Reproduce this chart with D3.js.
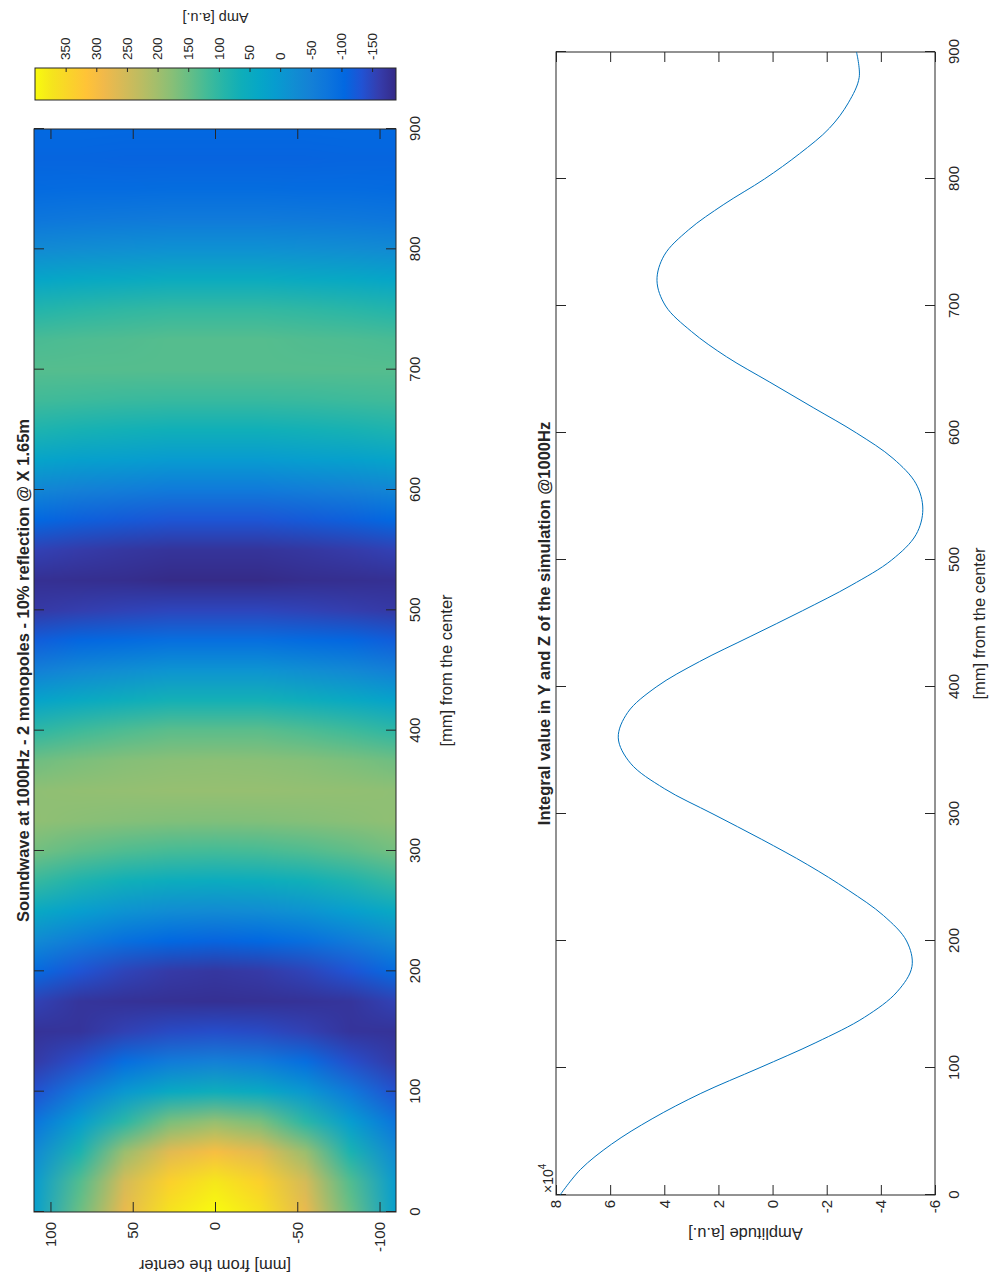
<!DOCTYPE html>
<html>
<head>
<meta charset="utf-8">
<script src="https://cdn.jsdelivr.net/npm/d3@7"></script>
<style>
body { margin: 0; background: #fff; }
text { font-family: "Liberation Sans", Arial, Helvetica, sans-serif; fill: #262626; }
.axis line { stroke: #262626; }
.axis path { display: none; }
</style>
</head>
<body>
<div id="chart"></div>
<script>
// ---- heatmap data (Amp [a.u.]) ----
var hmX = [0, 25, 50, 75, 100, 125, 150, 175, 200, 225, 250, 275, 300, 325, 350, 375, 400, 425, 450,
    475, 500, 525, 550, 575, 600, 625, 650, 675, 700, 725, 750, 775, 800, 825, 850, 875, 900];
var hmY = [110, 82.5, 55, 27.5, 0, -27.5, -55, -82.5, -110];

var ampRow0 = [400, 375, 300, 190, 60, -50, -140, -180, -170, -110, -30, 50, 120, 170, 190, 180, 140, 70, -10,
    -90, -150, -188, -175, -130, -65, 5, 65, 110, 135, 135, 105, 50, -15, -65, -95, -110, -105];
var ampRow27 = [368, 338, 269, 165, 44, -61, -144, -179, -165, -105, -25, 54, 123, 171, 190, 178, 140, 70, -10,
    -90, -150, -188, -175, -130, -65, 5, 65, 110, 135, 135, 105, 50, -15, -65, -95, -110, -105];
var ampRow55 = [278, 254, 193, 96, -2, -92, -156, -177, -152, -89, -11, 65, 130, 174, 188, 174, 129, 59, -21,
    -98, -154, -184, -170, -123, -58, 11, 69, 112, 135, 132, 101, 45, -19, -67, -96, -110, -105];
var ampRow82 = [151, 132, 78, 9, -67, -139, -174, -173, -131, -63, 13, 84, 142, 178, 186, 166, 116, 44, -34,
    -107, -160, -182, -164, -115, -49, 18, 74, 115, 135, 129, 95, 39, -23, -70, -97, -109, -104];
var ampRow110 = [16, 4, -32, -79, -135, -166, -176, -154, -99, -29, 44, 109, 159, 184, 183, 155, 99, 25, -52,
    -120, -167, -180, -155, -103, -37, 28, 82, 119, 135, 125, 87, 30, -30, -74, -99, -109, -104];

var cbRange = [-189, 400];
var cbTicks = [-150, -100, -50, 0, 50, 100, 150, 200, 250, 300, 350];

// ---- integral line data ----
var lineX = [0, 20, 40, 60, 80, 100, 120, 140, 160, 180, 200, 220, 240, 260, 280, 300, 320, 340, 360, 380,
    400, 420, 440, 460, 480, 500, 520, 540, 560, 580, 600, 620, 640, 660, 680, 700, 720, 740, 760, 780,
    800, 820, 840, 860, 880, 900];
var lineAmp = [78500, 71000, 59500, 44500, 26500, 5000, -16000, -34000, -46000, -51500, -49500, -41000, -28000,
    -13000, 4000, 22000, 40000, 52500, 57000, 53500, 43000, 27000, 8000, -11000, -29000, -44000, -53000,
    -55500, -53000, -44500, -31000, -15000, 1000, 17000, 30000, 39500, 42700, 40000, 31000, 18000,
    3000, -10000, -21000, -28000, -32000, -31000];

var xTicks = [0, 100, 200, 300, 400, 500, 600, 700, 800, 900];
var hmYTicks = [-100, -50, 0, 50, 100];
var lineYTicks = [-60000, -40000, -20000, 0, 20000, 40000, 60000, 80000];

// parula colormap (every 3rd entry of the 64 colour table)
var parula = [
    [0.2081, 0.1663, 0.5292], [0.2081, 0.2386, 0.6771], [0.1253, 0.3242, 0.8303], [0.0060, 0.4086, 0.8828],
    [0.0498, 0.4586, 0.8641], [0.0779, 0.5040, 0.8384], [0.0641, 0.5570, 0.8240], [0.0265, 0.6137, 0.8135],
    [0.0228, 0.6535, 0.7768], [0.0590, 0.6838, 0.7254], [0.1453, 0.7098, 0.6646], [0.2586, 0.7317, 0.5954],
    [0.3953, 0.7459, 0.5244], [0.5300, 0.7491, 0.4661], [0.6473, 0.7456, 0.4188], [0.7525, 0.7384, 0.3768],
    [0.8507, 0.7299, 0.3360], [0.9450, 0.7261, 0.2886], [0.9990, 0.7653, 0.2164], [0.9789, 0.8271, 0.1633],
    [0.9589, 0.8949, 0.1132], [0.9763, 0.9831, 0.0538]
];

var hmRows = [ampRow110, ampRow82, ampRow55, ampRow27, ampRow0, ampRow27, ampRow55, ampRow82, ampRow110];

// page is the MATLAB figure turned a quarter turn counter-clockwise
var svg = d3.select("#chart").append("svg")
    .attr("width", 992)
    .attr("height", 1286);
svg.append("rect").attr("width", 992).attr("height", 1286).attr("fill", "#fff");

var fig = svg.append("g")
    .attr("transform", "translate(0,1286) rotate(-90)");

var parulaColors = parula.map(function (c) {
    return d3.rgb(c[0] * 255, c[1] * 255, c[2] * 255);
});
var color = d3.scaleSequential(d3.piecewise(d3.interpolateRgb, parulaColors)).domain(cbRange);

var fmt = function (d) { return String(d); };
var TICK = 10;

// ==== heatmap ====
var hm = {left: 74, right: 1157, top: 34, bottom: 396};
var hx = d3.scaleLinear().domain([0, 900]).range([hm.left, hm.right]);
var hy = d3.scaleLinear().domain([-110, 110]).range([hm.bottom, hm.top]);

var canvas = document.createElement("canvas");
canvas.width = hmX.length;
canvas.height = hmY.length;
var ctx = canvas.getContext("2d");
hmRows.forEach(function (row, j) {
    row.forEach(function (v, i) {
        ctx.fillStyle = color(v);
        ctx.fillRect(i, j, 1, 1);
    });
});

fig.append("clipPath").attr("id", "hm-clip")
    .append("rect")
    .attr("x", hm.left).attr("y", hm.top)
    .attr("width", hm.right - hm.left).attr("height", hm.bottom - hm.top);

var dxh = (hmX[1] - hmX[0]) / 2, dyh = (hmY[0] - hmY[1]) / 2;
fig.append("g").attr("clip-path", "url(#hm-clip)")
    .append("image")
    .attr("href", canvas.toDataURL())
    .attr("x", hx(hmX[0] - dxh))
    .attr("y", hy(hmY[0] + dyh))
    .attr("width", hx(hmX[hmX.length - 1] + dxh) - hx(hmX[0] - dxh))
    .attr("height", hy(hmY[hmY.length - 1] - dyh) - hy(hmY[0] + dyh))
    .attr("preserveAspectRatio", "none");

function drawBox(g, box) {
    g.append("rect")
        .attr("x", box.left).attr("y", box.top)
        .attr("width", box.right - box.left).attr("height", box.bottom - box.top)
        .attr("fill", "none").attr("stroke", "#262626").attr("stroke-width", 1);
}

function drawAxes(box, x, y, xt, yt, yfmt, ypad) {
    fig.append("g").attr("class", "axis")
        .attr("transform", "translate(0," + box.bottom + ")")
        .call(d3.axisBottom(x).tickValues(xt).tickSize(-TICK).tickPadding(13).tickFormat(fmt))
        .selectAll("text").style("font-size", "15px").attr("fill", "#262626");
    fig.append("g").attr("class", "axis")
        .attr("transform", "translate(0," + box.top + ")")
        .call(d3.axisTop(x).tickValues(xt).tickSize(-TICK).tickFormat(""));
    fig.append("g").attr("class", "axis")
        .attr("transform", "translate(" + box.left + ",0)")
        .call(d3.axisLeft(y).tickValues(yt).tickSize(-TICK).tickPadding(ypad).tickFormat(yfmt))
        .selectAll("text").style("font-size", "15px").attr("fill", "#262626");
    fig.append("g").attr("class", "axis")
        .attr("transform", "translate(" + box.right + ",0)")
        .call(d3.axisRight(y).tickValues(yt).tickSize(-TICK).tickFormat(""));
    drawBox(fig, box);
}

drawAxes(hm, hx, hy, xTicks, hmYTicks, fmt, 10);

fig.append("text")
    .attr("x", (hm.left + hm.right) / 2).attr("y", 29)
    .attr("text-anchor", "middle")
    .style("font-size", "16.5px").style("font-weight", "bold")
    .text("Soundwave at 1000Hz - 2 monopoles - 10% reflection @ X 1.65m");

fig.append("text")
    .attr("x", (hm.left + hm.right) / 2).attr("y", 452)
    .attr("text-anchor", "middle")
    .style("font-size", "16.5px")
    .text("[mm] from the center");

fig.append("text")
    .attr("transform", "translate(26," + (hm.top + hm.bottom) / 2 + ") rotate(-90)")
    .attr("text-anchor", "middle")
    .style("font-size", "16.5px")
    .text("[mm] from the center");

// ==== colorbar ====
var cb = {left: 1186, right: 1218, top: 35, bottom: 396};
var cy = d3.scaleLinear().domain(cbRange).range([cb.bottom, cb.top]);

var grad = fig.append("defs").append("linearGradient")
    .attr("id", "parula-grad")
    .attr("x1", 0).attr("y1", 1).attr("x2", 0).attr("y2", 0);
grad.selectAll("stop")
    .data(parulaColors)
    .enter().append("stop")
    .attr("offset", function (d, i) { return i / (parulaColors.length - 1); })
    .attr("stop-color", function (d) { return d; });

fig.append("rect")
    .attr("x", cb.left).attr("y", cb.top)
    .attr("width", cb.right - cb.left).attr("height", cb.bottom - cb.top)
    .attr("fill", "url(#parula-grad)");

var cbAxis = fig.append("g").attr("class", "axis")
    .attr("transform", "translate(" + cb.right + ",0)")
    .call(d3.axisRight(cy).tickValues(cbTicks).tickSize(-4).tickPadding(8).tickFormat(fmt));
cbAxis.selectAll("text").style("font-size", "13.5px").attr("fill", "#262626");
drawBox(fig, cb);

fig.append("text")
    .attr("transform", "translate(1273," + (cb.top + cb.bottom) / 2 + ") rotate(-90)")
    .attr("text-anchor", "middle")
    .style("font-size", "14.5px")
    .text("Amp [a.u.]");

// ==== integral line plot ====
var lp = {left: 91, right: 1234, top: 556, bottom: 935};
var lx = d3.scaleLinear().domain([0, 900]).range([lp.left, lp.right]);
var ly = d3.scaleLinear().domain([-60000, 80000]).range([lp.bottom, lp.top]);

drawAxes(lp, lx, ly, xTicks, lineYTicks, function (d) { return String(d / 10000); }, 5);

var line = d3.line()
    .curve(d3.curveCatmullRom)
    .x(function (d, i) { return lx(lineX[i]); })
    .y(function (d) { return ly(d); });

fig.append("path")
    .datum(lineAmp)
    .attr("d", line)
    .attr("fill", "none")
    .attr("stroke", "#0072bd")
    .attr("stroke-width", 1);

fig.append("text")
    .attr("x", (lp.left + lp.right) / 2).attr("y", 550)
    .attr("text-anchor", "middle")
    .style("font-size", "16.5px").style("font-weight", "bold")
    .text("Integral value in Y and Z of the simulation @1000Hz");

fig.append("text")
    .attr("x", (lp.left + lp.right) / 2).attr("y", 985)
    .attr("text-anchor", "middle")
    .style("font-size", "16.5px")
    .text("[mm] from the center");

fig.append("text")
    .attr("transform", "translate(58," + (lp.top + lp.bottom) / 2 + ") rotate(-90)")
    .attr("text-anchor", "middle")
    .style("font-size", "16.5px")
    .text("Amplitude [a.u.]");

var expo = fig.append("text")
    .attr("x", lp.left + 2).attr("y", 553)
    .style("font-size", "14px");
expo.append("tspan").text("\u00d710");
expo.append("tspan").attr("dy", -7).style("font-size", "10px").text("4");
</script>
</body>
</html>
